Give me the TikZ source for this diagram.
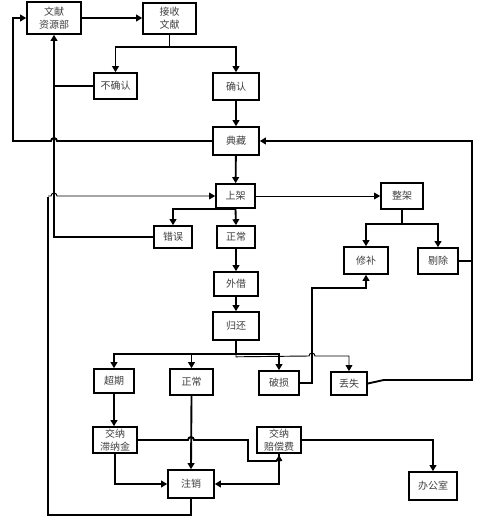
\documentclass[tikz,border=0pt]{standalone}
\usepackage{fontspec}
\newfontfamily\cjk{Noto Sans CJK SC}
\usetikzlibrary{arrows.meta}
\begin{document}
\begin{tikzpicture}[x=0.75pt,y=-0.75pt,
 box/.style={draw=black,line width=1.2pt,fill=white,inner sep=0pt,align=center,
   font=\cjk\fontsize{7.5}{9.5}\selectfont,text=black!75},
 sz/.style 2 args={minimum width=#1*0.75pt,minimum height=#2*0.75pt},
 conn/.style={line width=1.4pt},
 arr/.style={conn,-{Triangle[length=4.5pt,width=5pt]}},
 thinl/.style={line width=0.7pt},
 tarr/.style={thinl,-{Triangle[length=4.5pt,width=5pt]}},
 ]
\useasboundingbox (0,0) rectangle (484,525);
\fill[white] (0,0) rectangle (484,525);

% nodes
\node[box,sz={54}{32}] (zy) at (54,18) {文献\\资源部};
\node[box,sz={53}{31}] (js) at (169.5,18.5) {接收\\文献};
\node[box,sz={43}{26}] (bqr) at (115.5,86) {不确认};
\node[box,sz={46}{27}] (qr) at (236,86.5) {确认};
\node[box,sz={46}{28}] (dc) at (236,141) {典藏};
\node[box,sz={39}{24}] (sj) at (235.5,196) {上架};
\node[box,sz={38}{22}] (cw) at (173,237) {错误};
\node[box,sz={38}{22}] (zc1) at (236,237) {正常};
\node[box,sz={42}{26}] (zj) at (402,196) {整架};
\node[box,sz={44}{27}] (xb) at (366,260.5) {修补};
\node[box,sz={40}{26}] (tc) at (438,261) {剔除};
\node[box,sz={44}{24}] (wj) at (236,284) {外借};
\node[box,sz={46}{28}] (gh) at (236,326) {归还};
\node[box,sz={40}{24}] (cq) at (114,381) {超期};
\node[box,sz={43}{26}] (zc2) at (191.5,382) {正常};
\node[box,sz={40}{24}] (ps) at (279,383) {破损};
\node[box,sz={36}{23}] (ds) at (349,383.5) {丢失};
\node[box,sz={44}{26}] (jn1) at (115,440) {交纳\\滞纳金};
\node[box,sz={44}{26}] (pcf) at (279,440) {交纳\\赔偿费};
\node[box,sz={46}{28}] (zx) at (191,484) {注销};
\node[box,sz={48}{28}] (bgs) at (433,486) {办公室};

% top part
\draw[arr] (zy.east) -- (zy.east -| js.west);
\draw[conn] (js.south) -- ++(0,12.5) coordinate (b1);
\draw[arr] (b1) -| (bqr.north);
\draw[arr] (b1) -| (qr.north);
\draw[arr] (qr) -- (dc);
\draw[conn] (bqr.west) -- (bqr.west -| zy.south);
\draw[arr] (cw.west) -| (zy.south);
\draw[arr] (dc.west) -- (57,141) arc[start angle=0,end angle=180,radius=2.25pt]
  -- (13,141) |- (zy.west);
\draw[arr] (dc) -- (sj);
\draw[tarr] (sj.east) -- (sj.east -| zj.west);
\draw[conn] (zx.south) |- (48,515) -- (48,197);
\draw[tarr] (48,196) -- (51,196) arc[start angle=180,end angle=0,radius=2.25pt] -- (sj.west);
\draw[arr] (sj.south) -| (cw.north);
\draw[arr] (sj.south) -- (zc1.north);
\draw[arr] (zc1) -- (wj);
\draw[arr] (wj) -- (gh);

% right part
\draw[conn] (zj.south) -- ++(0,14) coordinate (z1);
\draw[arr] (z1) -| (xb.north);
\draw[arr] (z1) -| (tc.north);
\draw[arr] (ps.east) -- (312,383) -- (312,288) -| (xb.south);
\draw[arr] (ds.east) -- ++(16,-3.5) -- (472,380) |- (dc.east);
\draw[conn] (tc.east) -- (472,261);

% return branch
\draw[conn] (gh.south) -- ++(0,13) coordinate (g1);
\draw[arr] (g1) -| (cq.north);
\draw[arr] (g1 -| zc2.north) -- (zc2.north);
\draw[arr] (g1) -| (ps.north);
\draw[tarr] (g1) -- ++(0,3) -- (309,356) arc[start angle=180,end angle=0,radius=2.25pt] -| (ds.north);

% bottom part
\draw[arr] (cq.south) -- (cq.south |- jn1.north);
\draw[arr] (zc2.south) -- (zx.north);
\draw[conn] (jn1.east) -- (188,440) arc[start angle=180,end angle=0,radius=2.25pt]
  -- (248,440) -- (248,461) -- (276.5,461) -- (279,457) -- (281.5,461);
\draw[arr] (pcf.south) |- (zx.east);
\draw[arr] (jn1.south) |- (zx.west);
\draw[arr] (pcf.east) -| (bgs.north);
\end{tikzpicture}
\end{document}
